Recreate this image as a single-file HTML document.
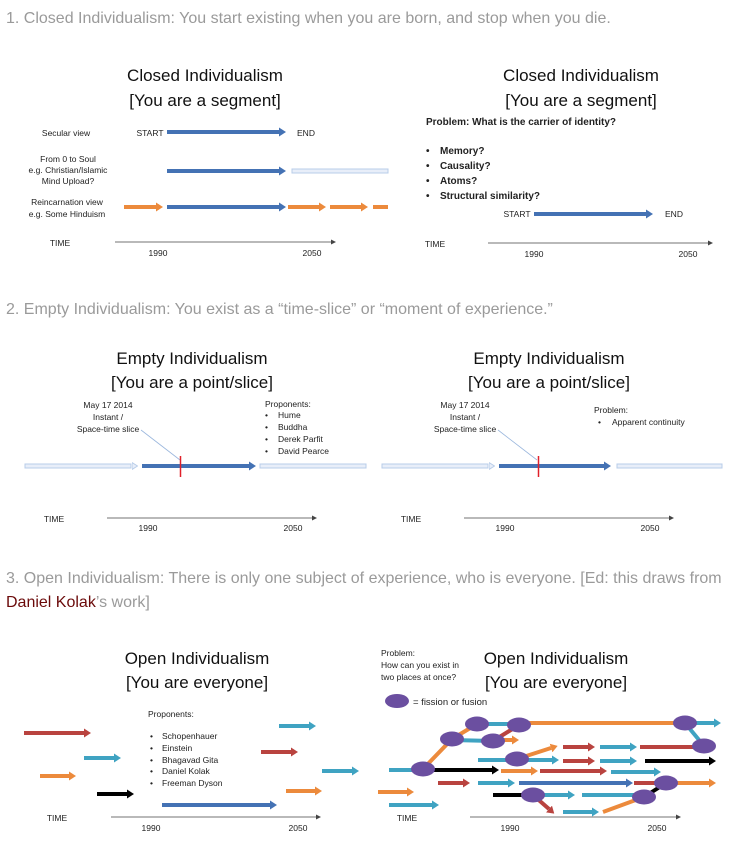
<!DOCTYPE html>
<html><head><meta charset="utf-8"><style>
html,body{margin:0;padding:0;background:#fff;width:730px;height:850px;overflow:hidden}
svg{display:block}
.h{font-family:"Liberation Sans",sans-serif;font-size:16px;fill:#9a9a9a}
.t{font-family:"Liberation Sans",sans-serif;font-size:17px;fill:#111;text-anchor:middle}
.s{font-family:"Liberation Sans",sans-serif;font-size:8.5px;fill:#222}
.c{text-anchor:middle}
.b{font-weight:bold;font-size:10px}
</style></head><body>
<svg width="730" height="850" viewBox="0 0 730 850" xmlns="http://www.w3.org/2000/svg">
<defs>
<marker id="mb" markerUnits="userSpaceOnUse" markerWidth="7" markerHeight="9" refX="0" refY="4.5" orient="auto"><path d="M0,0L7,4.5L0,9z" fill="#4472b4"/></marker>
<marker id="mo" markerUnits="userSpaceOnUse" markerWidth="7" markerHeight="9" refX="0" refY="4.5" orient="auto"><path d="M0,0L7,4.5L0,9z" fill="#ec8a3c"/></marker>
<marker id="mr" markerUnits="userSpaceOnUse" markerWidth="7" markerHeight="9" refX="0" refY="4.5" orient="auto"><path d="M0,0L7,4.5L0,9z" fill="#b9433f"/></marker>
<marker id="mt" markerUnits="userSpaceOnUse" markerWidth="7" markerHeight="9" refX="0" refY="4.5" orient="auto"><path d="M0,0L7,4.5L0,9z" fill="#3fa3c2"/></marker>
<marker id="mk" markerUnits="userSpaceOnUse" markerWidth="7" markerHeight="9" refX="0" refY="4.5" orient="auto"><path d="M0,0L7,4.5L0,9z" fill="#000"/></marker>
<marker id="ma" markerUnits="userSpaceOnUse" markerWidth="5" markerHeight="5" refX="0" refY="2.5" orient="auto"><path d="M0,0L5,2.5L0,5z" fill="#444"/></marker>
<marker id="ml" markerUnits="userSpaceOnUse" markerWidth="6" markerHeight="8" refX="0" refY="4" orient="auto"><path d="M0,0.5L5.5,4L0,7.5z" fill="#e8eef9" stroke="#b8cde9" stroke-width="1"/></marker>
</defs>

<text class="h" x="6" y="23">1. Closed Individualism: You start existing when you are born, and stop when you die.</text>
<text class="h" x="6" y="314">2. Empty Individualism: You exist as a “time-slice” or “moment of experience.”</text>
<text class="h" x="6" y="583">3. Open Individualism: There is only one subject of experience, who is everyone. [Ed: this draws from</text>
<text class="h" x="6" y="607"><tspan fill="#6b0a0a">Daniel Kolak</tspan>’s work]</text>

<!-- Panel 1 left -->
<text class="t" x="205" y="81">Closed Individualism</text>
<text class="t" x="205" y="106">[You are a segment]</text>
<text class="s c" x="66" y="136">Secular view</text>
<text class="s c" x="150" y="136">START</text>
<text class="s c" x="306" y="136">END</text>
<text class="s c" x="68" y="162">From 0 to Soul</text>
<text class="s c" x="68" y="173">e.g. Christian/Islamic</text>
<text class="s c" x="68" y="184">Mind Upload?</text>
<text class="s c" x="67" y="205">Reincarnation view</text>
<text class="s c" x="67" y="217">e.g. Some Hinduism</text>
<g stroke-width="4" fill="none">
<line x1="167" y1="132" x2="279" y2="132" stroke="#4472b4" marker-end="url(#mb)"/>
<line x1="167" y1="171" x2="279" y2="171" stroke="#4472b4" marker-end="url(#mb)"/>
<line x1="167" y1="207" x2="279" y2="207" stroke="#4472b4" marker-end="url(#mb)"/>
<line x1="124" y1="207" x2="156" y2="207" stroke="#ec8a3c" marker-end="url(#mo)"/>
<line x1="288" y1="207" x2="319" y2="207" stroke="#ec8a3c" marker-end="url(#mo)"/>
<line x1="330" y1="207" x2="361" y2="207" stroke="#ec8a3c" marker-end="url(#mo)"/>
<line x1="373" y1="207" x2="388" y2="207" stroke="#ec8a3c"/>
</g>
<rect x="292" y="169" width="96" height="4" fill="#e8eef9" stroke="#b8cde9" stroke-width="1"/>
<text class="s c" x="60" y="246">TIME</text>
<line x1="115" y1="242" x2="331" y2="242" stroke="#444" stroke-width="0.8" marker-end="url(#ma)"/>
<text class="s c" x="158" y="256">1990</text>
<text class="s c" x="312" y="256">2050</text>

<!-- Panel 1 right -->
<text class="t" x="581" y="81">Closed Individualism</text>
<text class="t" x="581" y="106">[You are a segment]</text>
<text class="s b" x="426" y="125">Problem: What is the carrier of identity?</text>
<g class="s b">
<text class="s b" x="426" y="154">•</text><text class="s b" x="440" y="154">Memory?</text>
<text class="s b" x="426" y="169">•</text><text class="s b" x="440" y="169">Causality?</text>
<text class="s b" x="426" y="184">•</text><text class="s b" x="440" y="184">Atoms?</text>
<text class="s b" x="426" y="199">•</text><text class="s b" x="440" y="199">Structural similarity?</text>
</g>
<text class="s c" x="517" y="217">START</text>
<text class="s c" x="674" y="217">END</text>
<line x1="534" y1="214" x2="646" y2="214" stroke="#4472b4" stroke-width="4" marker-end="url(#mb)"/>
<text class="s c" x="435" y="247">TIME</text>
<line x1="488" y1="243" x2="708" y2="243" stroke="#444" stroke-width="0.8" marker-end="url(#ma)"/>
<text class="s c" x="534" y="257">1990</text>
<text class="s c" x="688" y="257">2050</text>

<!-- Panel 2 left -->
<text class="t" x="192" y="364">Empty Individualism</text>
<text class="t" x="192" y="388">[You are a point/slice]</text>
<text class="s c" x="108" y="408">May 17 2014</text>
<text class="s c" x="108" y="420">Instant /</text>
<text class="s c" x="108" y="432">Space-time slice</text>
<line x1="141" y1="430" x2="180" y2="460" stroke="#9bb7dd" stroke-width="0.8"/>
<text class="s" x="265" y="407">Proponents:</text>
<text class="s" x="265" y="418">•</text><text class="s" x="278" y="418">Hume</text>
<text class="s" x="265" y="430">•</text><text class="s" x="278" y="430">Buddha</text>
<text class="s" x="265" y="442">•</text><text class="s" x="278" y="442">Derek Parfit</text>
<text class="s" x="265" y="454">•</text><text class="s" x="278" y="454">David Pearce</text>
<rect x="25" y="464" width="106" height="4" fill="#e8eef9" stroke="#b8cde9" stroke-width="1"/>
<line x1="131" y1="466" x2="132" y2="466" stroke="none" marker-end="url(#ml)"/>
<line x1="142" y1="466" x2="249" y2="466" stroke="#4472b4" stroke-width="4" marker-end="url(#mb)"/>
<rect x="260" y="464" width="106" height="4" fill="#e8eef9" stroke="#b8cde9" stroke-width="1"/>
<line x1="180.5" y1="456" x2="180.5" y2="477" stroke="#e0202a" stroke-width="1.5"/>
<text class="s c" x="54" y="522">TIME</text>
<line x1="107" y1="518" x2="312" y2="518" stroke="#444" stroke-width="0.8" marker-end="url(#ma)"/>
<text class="s c" x="148" y="531">1990</text>
<text class="s c" x="293" y="531">2050</text>

<!-- Panel 2 right -->
<text class="t" x="549" y="364">Empty Individualism</text>
<text class="t" x="549" y="388">[You are a point/slice]</text>
<text class="s c" x="465" y="408">May 17 2014</text>
<text class="s c" x="465" y="420">Instant /</text>
<text class="s c" x="465" y="432">Space-time slice</text>
<line x1="498" y1="430" x2="537" y2="460" stroke="#9bb7dd" stroke-width="0.8"/>
<text class="s" x="594" y="413">Problem:</text>
<text class="s" x="598" y="425">•</text><text class="s" x="612" y="425">Apparent continuity</text>
<rect x="382" y="464" width="106" height="4" fill="#e8eef9" stroke="#b8cde9" stroke-width="1"/>
<line x1="488" y1="466" x2="489" y2="466" stroke="none" marker-end="url(#ml)"/>
<line x1="499" y1="466" x2="604" y2="466" stroke="#4472b4" stroke-width="4" marker-end="url(#mb)"/>
<rect x="617" y="464" width="105" height="4" fill="#e8eef9" stroke="#b8cde9" stroke-width="1"/>
<line x1="538.5" y1="456" x2="538.5" y2="477" stroke="#e0202a" stroke-width="1.5"/>
<text class="s c" x="411" y="522">TIME</text>
<line x1="464" y1="518" x2="669" y2="518" stroke="#444" stroke-width="0.8" marker-end="url(#ma)"/>
<text class="s c" x="505" y="531">1990</text>
<text class="s c" x="650" y="531">2050</text>

<!-- Panel 3 left -->
<text class="t" x="197" y="664">Open Individualism</text>
<text class="t" x="197" y="688">[You are everyone]</text>
<text class="s" x="148" y="717">Proponents:</text>
<text class="s" x="150" y="739">•</text><text class="s" x="162" y="739">Schopenhauer</text>
<text class="s" x="150" y="751">•</text><text class="s" x="162" y="751">Einstein</text>
<text class="s" x="150" y="763">•</text><text class="s" x="162" y="763">Bhagavad Gita</text>
<text class="s" x="150" y="774">•</text><text class="s" x="162" y="774">Daniel Kolak</text>
<text class="s" x="150" y="786">•</text><text class="s" x="162" y="786">Freeman Dyson</text>
<g stroke-width="4">
<line x1="24" y1="733" x2="84" y2="733" stroke="#b9433f" marker-end="url(#mr)"/>
<line x1="84" y1="758" x2="114" y2="758" stroke="#3fa3c2" marker-end="url(#mt)"/>
<line x1="40" y1="776" x2="69" y2="776" stroke="#ec8a3c" marker-end="url(#mo)"/>
<line x1="97" y1="794" x2="127" y2="794" stroke="#000" marker-end="url(#mk)"/>
<line x1="162" y1="805" x2="270" y2="805" stroke="#4472b4" marker-end="url(#mb)"/>
<line x1="279" y1="726" x2="309" y2="726" stroke="#3fa3c2" marker-end="url(#mt)"/>
<line x1="261" y1="752" x2="291" y2="752" stroke="#b9433f" marker-end="url(#mr)"/>
<line x1="322" y1="771" x2="352" y2="771" stroke="#3fa3c2" marker-end="url(#mt)"/>
<line x1="286" y1="791" x2="315" y2="791" stroke="#ec8a3c" marker-end="url(#mo)"/>
</g>
<text class="s c" x="57" y="821">TIME</text>
<line x1="111" y1="817" x2="316" y2="817" stroke="#444" stroke-width="0.8" marker-end="url(#ma)"/>
<text class="s c" x="151" y="831">1990</text>
<text class="s c" x="298" y="831">2050</text>

<!-- Panel 3 right -->
<text class="s" x="381" y="656">Problem:</text>
<text class="s" x="381" y="668">How can you exist in</text>
<text class="s" x="381" y="680">two places at once?</text>
<text class="t" x="556" y="664">Open Individualism</text>
<text class="t" x="556" y="688">[You are everyone]</text>
<ellipse cx="397" cy="701" rx="12" ry="7" fill="#6b4fa0"/>
<text class="s" x="413" y="705" style="font-size:9.5px">= fission or fusion</text>
<g stroke-width="4" fill="none">
<line x1="389" y1="770" x2="423" y2="770" stroke="#3fa3c2"/>
<polyline points="423,769 452,739 477,724" stroke="#ec8a3c"/>
<line x1="477" y1="724" x2="519" y2="724" stroke="#3fa3c2"/>
<line x1="519" y1="723" x2="685" y2="723" stroke="#ec8a3c"/>
<line x1="685" y1="723" x2="714" y2="723" stroke="#3fa3c2" marker-end="url(#mt)"/>
<line x1="685" y1="723" x2="704" y2="746" stroke="#3fa3c2"/>
<line x1="452" y1="740" x2="493" y2="741" stroke="#3fa3c2"/>
<line x1="493" y1="741" x2="519" y2="725" stroke="#b9433f"/>
<line x1="493" y1="740" x2="512" y2="740" stroke="#ec8a3c" marker-end="url(#mo)"/>
<line x1="423" y1="770" x2="492" y2="770" stroke="#000" marker-end="url(#mk)"/>
<line x1="478" y1="760" x2="552" y2="760" stroke="#3fa3c2" marker-end="url(#mt)"/>
<line x1="517" y1="759" x2="551" y2="748" stroke="#ec8a3c" marker-end="url(#mo)"/>
<line x1="563" y1="747" x2="588" y2="747" stroke="#b9433f" marker-end="url(#mr)"/>
<line x1="600" y1="747" x2="630" y2="747" stroke="#3fa3c2" marker-end="url(#mt)"/>
<line x1="640" y1="747" x2="704" y2="747" stroke="#b9433f"/>
<line x1="563" y1="761" x2="588" y2="761" stroke="#b9433f" marker-end="url(#mr)"/>
<line x1="600" y1="761" x2="630" y2="761" stroke="#3fa3c2" marker-end="url(#mt)"/>
<line x1="645" y1="761" x2="709" y2="761" stroke="#000" marker-end="url(#mk)"/>
<line x1="501" y1="771" x2="531" y2="771" stroke="#ec8a3c" marker-end="url(#mo)"/>
<line x1="540" y1="771" x2="600" y2="771" stroke="#b9433f" marker-end="url(#mr)"/>
<line x1="611" y1="772" x2="654" y2="772" stroke="#3fa3c2" marker-end="url(#mt)"/>
<line x1="438" y1="783" x2="463" y2="783" stroke="#b9433f" marker-end="url(#mr)"/>
<line x1="478" y1="783" x2="508" y2="783" stroke="#3fa3c2" marker-end="url(#mt)"/>
<line x1="519" y1="783" x2="626" y2="783" stroke="#4472b4" marker-end="url(#mb)"/>
<line x1="634" y1="783" x2="666" y2="783" stroke="#b9433f"/>
<line x1="666" y1="783" x2="709" y2="783" stroke="#ec8a3c" marker-end="url(#mo)"/>
<line x1="378" y1="792" x2="407" y2="792" stroke="#ec8a3c" marker-end="url(#mo)"/>
<line x1="493" y1="795" x2="533" y2="795" stroke="#000"/>
<line x1="533" y1="795" x2="568" y2="795" stroke="#3fa3c2" marker-end="url(#mt)"/>
<line x1="582" y1="795" x2="644" y2="795" stroke="#3fa3c2"/>
<line x1="644" y1="797" x2="666" y2="783" stroke="#000"/>
<line x1="533" y1="795" x2="549" y2="809" stroke="#b9433f" marker-end="url(#mr)"/>
<line x1="563" y1="812" x2="592" y2="812" stroke="#3fa3c2" marker-end="url(#mt)"/>
<line x1="603" y1="812" x2="644" y2="797" stroke="#ec8a3c"/>
<line x1="389" y1="805" x2="432" y2="805" stroke="#3fa3c2" marker-end="url(#mt)"/>
</g>
<g fill="#6b4fa0">
<ellipse cx="423" cy="769" rx="12" ry="7.5"/>
<ellipse cx="452" cy="739" rx="12" ry="7.5"/>
<ellipse cx="477" cy="724" rx="12" ry="7.5"/>
<ellipse cx="519" cy="725" rx="12" ry="7.5"/>
<ellipse cx="493" cy="741" rx="12" ry="7.5"/>
<ellipse cx="517" cy="759" rx="12" ry="7.5"/>
<ellipse cx="685" cy="723" rx="12" ry="7.5"/>
<ellipse cx="704" cy="746" rx="12" ry="7.5"/>
<ellipse cx="533" cy="795" rx="12" ry="7.5"/>
<ellipse cx="644" cy="797" rx="12" ry="7.5"/>
<ellipse cx="666" cy="783" rx="12" ry="7.5"/>
</g>
<text class="s c" x="407" y="821">TIME</text>
<line x1="470" y1="817" x2="676" y2="817" stroke="#444" stroke-width="0.8" marker-end="url(#ma)"/>
<text class="s c" x="510" y="831">1990</text>
<text class="s c" x="657" y="831">2050</text>
</svg>
</body></html>
